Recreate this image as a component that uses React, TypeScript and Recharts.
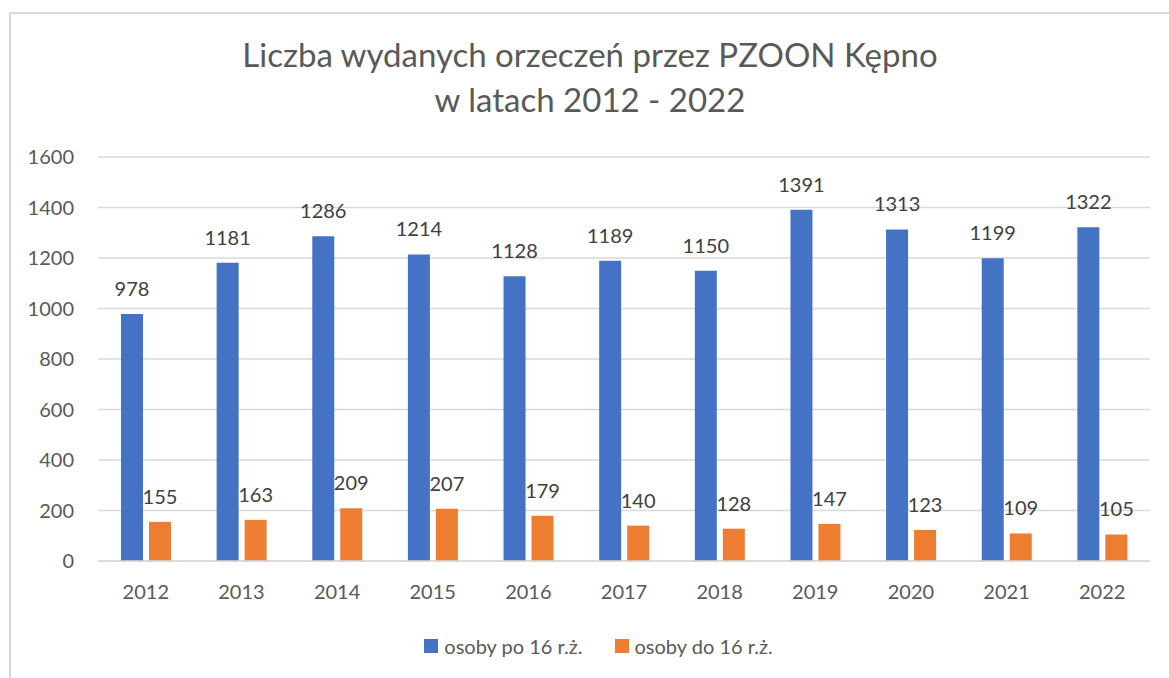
import React from "react";
import {
  BarChart,
  Bar,
  XAxis,
  YAxis,
  CartesianGrid,
  Legend,
  LabelList,
} from "recharts";

const years = ["2012", "2013", "2014", "2015", "2016", "2017", "2018", "2019", "2020", "2021", "2022"];
const over16 = [978, 1181, 1286, 1214, 1128, 1189, 1150, 1391, 1313, 1199, 1322];
const under16 = [155, 163, 209, 207, 179, 140, 128, 147, 123, 109, 105];
const yTicks = [0, 200, 400, 600, 800, 1000, 1200, 1400, 1600];

const seriesNames = { over: "osoby po 16 r.ż.", under: "osoby do 16 r.ż." };
const colors = { over: "#4472C4", under: "#ED7D31" };

const data = years.map((year, i) => ({
  year,
  over: over16[i],
  under: under16[i],
}));

const FONT = "Lato, 'Open Sans', sans-serif";
const TEXT = "#595959";

const LegendContent = () => (
  <div
    style={{
      display: "flex",
      justifyContent: "center",
      alignItems: "center",
      height: 24,
      paddingLeft: 17,
      fontFamily: FONT,
      fontSize: 20,
      color: TEXT,
    }}
  >
    {(["over", "under"] as const).map((key, i) => (
      <div
        key={key}
        style={{ display: "flex", alignItems: "center", marginLeft: i ? 32 : 0 }}
      >
        <span
          style={{ width: 14, height: 14, background: colors[key], marginRight: 6 }}
        />
        <span>{seriesNames[key]}</span>
      </div>
    ))}
  </div>
);

export default function App() {
  return (
    <div
      style={{
        position: "absolute",
        left: 9,
        top: 12,
        width: 1160,
        height: 666,
        boxSizing: "border-box",
        borderLeft: "2px solid #d9d9d9",
        borderTop: "2px solid #d9d9d9",
        overflow: "hidden",
        background: "#fff",
      }}
    >
      <div
        style={{
          position: "absolute",
          top: 18,
          left: 0,
          width: 1158,
          textAlign: "center",
          fontFamily: FONT,
          fontSize: 33,
          lineHeight: "45px",
          color: TEXT,
        }}
      >
        Liczba wydanych orzeczeń przez PZOON Kępno
        <br />w latach 2012 - 2022
      </div>
      <BarChart
        width={1158}
        height={664}
        data={data}
        margin={{ top: 143, right: 19, bottom: 63, left: 0 }}
        barSize={22}
        barGap={6}
      >
        <CartesianGrid vertical={false} stroke="#d9d9d9" strokeWidth={1.3} />
        <XAxis
          dataKey="year"
          axisLine={{ stroke: "#d9d9d9", strokeWidth: 1.3 }}
          tickLine={false}
          tickSize={0}
          tickMargin={24}
          height={30}
          tick={{ fill: TEXT, fontSize: 20, fontFamily: FONT }}
        />
        <YAxis
          domain={[0, 1600]}
          ticks={yTicks}
          axisLine={false}
          tickLine={false}
          tickSize={0}
          tickMargin={24}
          width={87}
          tick={{ fill: TEXT, fontSize: 20, fontFamily: FONT }}
        />
        <Legend
          content={<LegendContent />}
          wrapperStyle={{ top: 620, left: 0, width: 1158, height: 24 }}
        />
        <Bar dataKey="over" name={seriesNames.over} fill={colors.over} isAnimationActive={false}>
          <LabelList
            dataKey="over"
            position="top"
            offset={18}
            fill="#404040"
            fontSize={20}
            fontFamily={FONT}
          />
        </Bar>
        <Bar dataKey="under" name={seriesNames.under} fill={colors.under} isAnimationActive={false}>
          <LabelList
            dataKey="under"
            position="top"
            offset={18}
            fill="#404040"
            fontSize={20}
            fontFamily={FONT}
          />
        </Bar>
      </BarChart>
    </div>
  );
}
